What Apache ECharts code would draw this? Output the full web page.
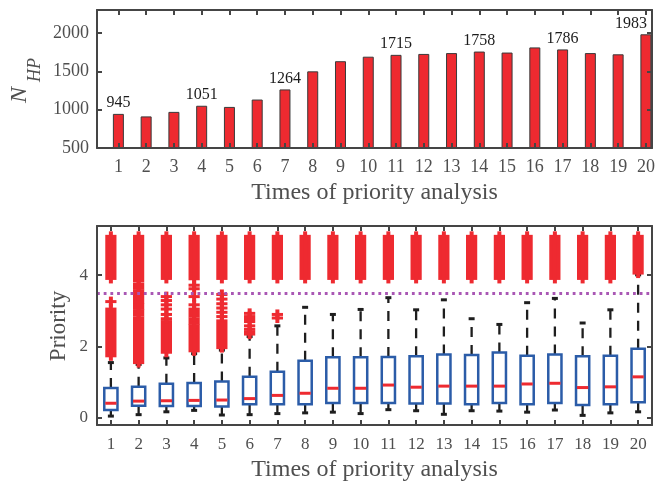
<!DOCTYPE html>
<html>
<head>
<meta charset="utf-8">
<script src="https://cdn.jsdelivr.net/npm/echarts@6/dist/echarts.min.js"></script>
<style>
  html, body { margin: 0; padding: 0; background: #fff; }
  #chart { width: 662px; height: 485px; }
</style>
</head>
<body>
<div id="chart"></div>
<script>
// Analysis rounds (x categories of both panels)
const analysisRounds = [1, 2, 3, 4, 5, 6, 7, 8, 9, 10, 11, 12, 13, 14, 15, 16, 17, 18, 19, 20];

// Upper panel: number of high-priority items per round
const highPriorityCounts = [945, 912, 971, 1051, 1036, 1132, 1264, 1500, 1632, 1691,
                            1715, 1727, 1738, 1758, 1745, 1812, 1786, 1738, 1722, 1983];
const labelledRounds = [1, 4, 7, 11, 14, 17, 20];
const countTicks = [500, 1000, 1500, 2000];

// Lower panel: priority distribution per round (box plot statistics)
const whiskerLow  = [0.05, 0.09, 0.17, 0.21, 0.08, 0.09, 0.12, 0.14, 0.16, 0.12,
                     0.23, 0.20, 0.10, 0.20, 0.19, 0.16, 0.22, 0.07, 0.14, 0.17];
const quartile1   = [0.22, 0.34, 0.33, 0.33, 0.32, 0.38, 0.38, 0.38, 0.42, 0.42,
                     0.42, 0.40, 0.40, 0.38, 0.42, 0.38, 0.42, 0.36, 0.38, 0.44];
const medians     = [0.41, 0.47, 0.48, 0.49, 0.50, 0.54, 0.63, 0.69, 0.83, 0.83,
                     0.92, 0.86, 0.89, 0.89, 0.89, 0.95, 0.97, 0.85, 0.87, 1.15];
const quartile3   = [0.84, 0.87, 0.96, 0.98, 1.02, 1.15, 1.29, 1.60, 1.70, 1.70,
                     1.71, 1.73, 1.78, 1.76, 1.83, 1.74, 1.78, 1.73, 1.74, 1.94];
const whiskerHigh = [1.55, 1.50, 1.68, 1.80, 1.90, 2.28, 2.58, 3.10, 2.90, 3.04,
                     3.37, 3.03, 3.31, 2.78, 2.62, 3.23, 3.35, 2.66, 3.03, 4.01];

// Outliers: [round, lowest, highest]; runs of densely packed points, single points have lowest == highest
const outlierRuns = [
  [1, 3.91, 5.09], [1, 1.74, 3.05], [1, 3.26, 3.26],
  [2, 3.84, 5.09], [2, 1.55, 2.80], [2, 2.88, 3.00], [2, 3.07, 3.18], [2, 3.25, 3.35], [2, 3.43, 3.55], [2, 3.63, 3.75],
  [3, 3.91, 5.09], [3, 1.84, 2.70], [3, 2.78, 2.78], [3, 2.90, 2.90], [3, 3.05, 3.05], [3, 3.17, 3.17], [3, 3.29, 3.29], [3, 3.40, 3.40],
  [4, 3.90, 5.09], [4, 1.88, 2.58], [4, 2.65, 2.77], [4, 2.85, 3.05], [4, 3.17, 3.17], [4, 3.40, 3.40], [4, 3.62, 3.62], [4, 3.72, 3.72],
  [5, 3.91, 5.09], [5, 1.97, 2.72], [5, 2.84, 2.84], [5, 2.96, 2.96], [5, 3.08, 3.08], [5, 3.20, 3.20], [5, 3.33, 3.33], [5, 3.46, 3.46],
  [6, 3.91, 5.09], [6, 2.35, 2.40], [6, 2.48, 2.48], [6, 2.58, 2.58], [6, 2.70, 2.84], [6, 2.93, 2.93],
  [7, 3.91, 5.09], [7, 2.80, 2.80], [7, 2.90, 2.90],
  [8, 3.91, 5.09], [9, 3.91, 5.09], [10, 3.91, 5.09], [11, 3.91, 5.09], [12, 3.91, 5.09],
  [13, 3.91, 5.09], [14, 3.91, 5.09], [15, 3.91, 5.09], [16, 3.91, 5.09], [17, 3.91, 5.09],
  [18, 3.91, 5.09], [19, 3.91, 5.09], [20, 4.06, 5.09]
];
const priorityThreshold = 3.5;
const priorityTicks = [0, 2, 4];

const FONT = 'Liberation Serif, Times New Roman, serif';
const AXIS = '#454545';
const TEXT = '#4f4f4f';
const RED = '#ee2a30';
const BLUE = '#2b5ca8';

const chart = echarts.init(document.getElementById('chart'), null, { renderer: 'canvas' });

function frameAxis(extra) {
  return Object.assign({
    axisLine: { show: true, onZero: false, lineStyle: { color: AXIS, width: 2 } },
    splitLine: { show: false },
    z: 5
  }, extra);
}

function renderBox(params, api) {
  const i = api.value(0);
  const x = api.coord([i, 0])[0];
  const y = v => api.coord([i, v])[1];
  const wl = y(api.value(1)), q1 = y(api.value(2)), md = y(api.value(3));
  const q3 = y(api.value(4)), wh = y(api.value(5));
  const hw = 6.6, cap = 3;
  const whisker = { stroke: '#1e1e1e', lineWidth: 2.3, lineDash: [10, 8] };
  const capStyle = { stroke: '#1e1e1e', lineWidth: 3 };
  return {
    type: 'group',
    children: [
      { type: 'line', shape: { x1: x, y1: q3, x2: x, y2: wh }, style: whisker },
      { type: 'line', shape: { x1: x, y1: q1, x2: x, y2: wl }, style: whisker },
      { type: 'line', shape: { x1: x - cap, y1: wh, x2: x + cap, y2: wh }, style: capStyle },
      { type: 'line', shape: { x1: x - cap, y1: wl, x2: x + cap, y2: wl }, style: capStyle },
      { type: 'rect', shape: { x: x - hw, y: q3, width: hw * 2, height: q1 - q3 },
        style: { fill: '#fff', stroke: BLUE, lineWidth: 2.5 } },
      { type: 'line', shape: { x1: x - hw + 1, y1: md, x2: x + hw - 1, y2: md },
        style: { stroke: RED, lineWidth: 3 } }
    ]
  };
}

function renderOutliers(params, api) {
  const i = api.value(0);
  const x = api.coord([i, 0])[0];
  const yLo = api.coord([i, api.value(1)])[1];
  const yHi = api.coord([i, api.value(2)])[1];
  return {
    type: 'group',
    children: [
      { type: 'rect', shape: { x: x - 5.6, y: yHi - 1.5, width: 11.2, height: yLo - yHi + 3 }, style: { fill: RED } },
      { type: 'rect', shape: { x: x - 2, y: yHi - 5, width: 4, height: yLo - yHi + 10 }, style: { fill: RED } }
    ]
  };
}

const roundNames = analysisRounds.map(String);
const plain = v => String(v);

const option = {
  animation: false,
  backgroundColor: '#fff',
  textStyle: { fontFamily: FONT },
  grid: [
    { left: 97, top: 10, width: 555, height: 138 },
    { left: 97, top: 226, width: 555, height: 199 }
  ],
  xAxis: [
    frameAxis({
      gridIndex: 0, type: 'value', min: 0.23, max: 20.22, position: 'bottom',
      axisTick: { show: true, inside: true, length: 5, customValues: analysisRounds, lineStyle: { color: AXIS, width: 2 } },
      axisLabel: { customValues: analysisRounds, formatter: plain, margin: 10, fontSize: 18, color: TEXT, fontFamily: FONT }
    }),
    frameAxis({
      gridIndex: 0, type: 'value', min: 0.23, max: 20.22, position: 'top',
      axisTick: { show: true, inside: true, length: 5, customValues: analysisRounds, lineStyle: { color: AXIS, width: 2 } },
      axisLabel: { show: false }
    }),
    frameAxis({
      gridIndex: 1, type: 'category', data: roundNames, boundaryGap: true, position: 'bottom',
      axisTick: { show: true, inside: true, length: 5, alignWithLabel: true, interval: 0, lineStyle: { color: AXIS, width: 2 } },
      axisLabel: { interval: 0, margin: 11, fontSize: 17, color: TEXT, fontFamily: FONT }
    }),
    frameAxis({
      gridIndex: 1, type: 'category', data: roundNames, boundaryGap: true, position: 'top',
      axisTick: { show: true, inside: true, length: 5, alignWithLabel: true, interval: 0, lineStyle: { color: AXIS, width: 2 } },
      axisLabel: { show: false }
    })
  ],
  yAxis: [
    frameAxis({
      gridIndex: 0, type: 'value', min: 500, max: 2300, position: 'left',
      axisTick: { show: true, inside: true, length: 5, customValues: countTicks, lineStyle: { color: AXIS, width: 2 } },
      axisLabel: { customValues: countTicks, formatter: plain, margin: 8, fontSize: 18, color: TEXT, fontFamily: FONT }
    }),
    frameAxis({
      gridIndex: 0, type: 'value', min: 500, max: 2300, position: 'right',
      axisTick: { show: true, inside: true, length: 5, customValues: countTicks, lineStyle: { color: AXIS, width: 2 } },
      axisLabel: { show: false }
    }),
    frameAxis({
      gridIndex: 1, type: 'value', min: -0.2, max: 5.38, position: 'left',
      axisTick: { show: true, inside: true, length: 5, customValues: priorityTicks, lineStyle: { color: AXIS, width: 2 } },
      axisLabel: { customValues: priorityTicks, formatter: plain, margin: 9, fontSize: 17, color: TEXT, fontFamily: FONT }
    }),
    frameAxis({
      gridIndex: 1, type: 'value', min: -0.2, max: 5.38, position: 'right',
      axisTick: { show: true, inside: true, length: 5, customValues: priorityTicks, lineStyle: { color: AXIS, width: 2 } },
      axisLabel: { show: false }
    })
  ],
  series: [
    {
      type: 'bar', xAxisIndex: 0, yAxisIndex: 0, barWidth: 11, z: 2,
      itemStyle: { color: RED, borderColor: '#3a3a3a', borderWidth: 1 },
      data: highPriorityCounts.map((v, i) => {
        const round = analysisRounds[i];
        const last = i === highPriorityCounts.length - 1;
        return {
          value: [round, v],
          label: {
            show: labelledRounds.includes(round),
            position: 'top', distance: 3,
            offset: last ? [-15, 0] : [0, 0],
            fontSize: 16, color: '#1c1c1c', fontFamily: FONT,
            formatter: p => String(p.value[1])
          }
        };
      })
    },
    {
      type: 'custom', xAxisIndex: 2, yAxisIndex: 2, z: 2,
      renderItem: renderBox,
      encode: { x: 0, y: [1, 2, 3, 4, 5] },
      data: analysisRounds.map((r, i) => [i, whiskerLow[i], quartile1[i], medians[i], quartile3[i], whiskerHigh[i]])
    },
    {
      type: 'custom', xAxisIndex: 2, yAxisIndex: 2, z: 3,
      renderItem: renderOutliers,
      encode: { x: 0, y: [1, 2] },
      data: outlierRuns.map(o => [analysisRounds.indexOf(o[0]), o[1], o[2]])
    },
    {
      type: 'line', xAxisIndex: 2, yAxisIndex: 2, z: 4, data: [],
      markLine: {
        silent: true, symbol: ['none', 'none'], label: { show: false },
        lineStyle: { color: '#a957b4', width: 2.8, type: [2.8, 3.9] },
        data: [{ yAxis: priorityThreshold }]
      }
    }
  ],
  graphic: [
    {
      type: 'group', x: 20, y: 103, rotation: Math.PI / 2,
      children: [
        { type: 'text', x: 0, y: 0, style: { text: 'N', font: 'italic 24px ' + FONT, fill: TEXT, align: 'left', verticalAlign: 'middle' } },
        { type: 'text', x: 21, y: 15.4, style: { text: 'HP', font: 'italic 18px ' + FONT, fill: TEXT, align: 'left', verticalAlign: 'middle' } }
      ]
    },
    {
      type: 'text', x: 59, y: 326, rotation: Math.PI / 2,
      style: { text: 'Priority', font: '23px ' + FONT, fill: TEXT, align: 'center', verticalAlign: 'middle' }
    },
    {
      type: 'text', x: 374.5, y: 193,
      style: { text: 'Times of priority analysis', font: '24px ' + FONT, fill: TEXT, align: 'center', verticalAlign: 'middle' }
    },
    {
      type: 'text', x: 374.5, y: 470,
      style: { text: 'Times of priority analysis', font: '24px ' + FONT, fill: TEXT, align: 'center', verticalAlign: 'middle' }
    }
  ]
};

chart.setOption(option);
</script>
</body>
</html>
